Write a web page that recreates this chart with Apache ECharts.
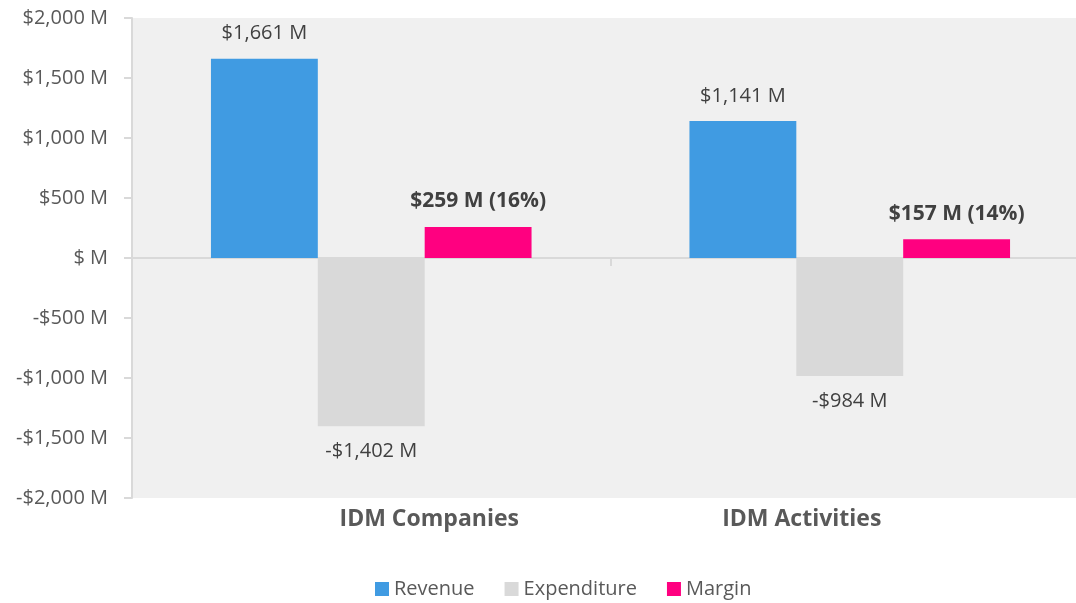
<!DOCTYPE html>
<html>
<head>
<meta charset="utf-8">
<script src="https://cdn.jsdelivr.net/npm/echarts@6/dist/echarts.min.js"></script>
<style>
  html, body { margin: 0; padding: 0; background: #fff; }
  #chart { width: 1076px; height: 603px; }
</style>
</head>
<body>
<div id="chart"></div>
<script>
const categories = ['IDM Companies', 'IDM Activities']
const revenue = [1661, 1141]
const expenditure = [-1402, -984]
const margin = [259, 157]
const marginPct = [16, 14]

const font = 'Open Sans'
const textColor = '#595959'
const labelColor = '#404040'

function money(v) {
  const abs = Math.abs(v)
  const s = abs === 0 ? '' : abs.toLocaleString('en-US')
  return (v < 0 ? '-' : '') + '$' + s + ' M'
}

const chart = echarts.init(document.getElementById('chart'))
const option = {
  animation: false,
  textStyle: { fontFamily: font },
  grid: {
    left: 132, width: 957, top: 18, bottom: 105,
    outerBoundsMode: 'none',
    show: true, backgroundColor: '#f0f0f0', borderWidth: 0
  },
  legend: {
    bottom: -1,
    left: 370,
    icon: 'rect',
    itemWidth: 14,
    itemHeight: 14,
    itemGap: 30,
    textStyle: { fontSize: 20, color: textColor, fontFamily: font },
    data: ['Revenue', 'Expenditure', 'Margin']
  },
  xAxis: [{
    type: 'category',
    data: categories,
    position: 'bottom',
    axisLine: { show: false, onZero: false },
    axisTick: { show: false },
    axisLabel: {
      margin: 10,
      formatter: (v, i) => i === 0 ? '{a|' + v + '}' : '{b|' + v + '}',
      rich: {
        a: { fontSize: 23, fontWeight: 'bold', color: textColor, fontFamily: font, padding: [0, 0, 0, 116] },
        b: { fontSize: 23, fontWeight: 'bold', color: textColor, fontFamily: font, padding: [0, 96, 0, 0] }
      }
    }
  }, {
    type: 'category',
    data: categories,
    position: 'bottom',
    axisLine: { show: true, onZero: true, lineStyle: { color: '#d9d9d9', width: 2 } },
    axisTick: { show: true, length: 8, lineStyle: { color: '#d9d9d9', width: 2 } },
    axisLabel: { show: false }
  }],
  yAxis: {
    type: 'value',
    min: -2000,
    max: 2000,
    interval: 500,
    axisLine: { show: true, lineStyle: { color: '#d9d9d9', width: 2 } },
    axisTick: { show: true, length: 8, lineStyle: { color: '#d9d9d9', width: 2 } },
    splitLine: { show: false },
    axisLabel: {
      margin: 24,
      fontSize: 20,
      color: textColor,
      formatter: v => money(v)
    }
  },
  series: [{
    name: 'Revenue',
    type: 'bar',
    data: revenue,
    barGap: '0%',
    barCategoryGap: '33%',
    itemStyle: { color: '#409be2' },
    label: {
      show: true, position: 'outside', distance: 15,
      fontSize: 20, color: labelColor, formatter: p => money(p.value)
    }
  }, {
    name: 'Expenditure',
    type: 'bar',
    data: expenditure,
    itemStyle: { color: '#d9d9d9' },
    label: {
      show: true, position: 'outside', distance: 15,
      fontSize: 20, color: labelColor, formatter: p => money(p.value)
    }
  }, {
    name: 'Margin',
    type: 'bar',
    data: margin,
    itemStyle: { color: '#ff0080' },
    label: {
      show: true, position: 'outside', distance: 15,
      fontSize: 21, fontWeight: 'bold', color: labelColor,
      formatter: p => money(p.value) + ' (' + marginPct[p.dataIndex] + '%)'
    }
  }]
}
chart.setOption(option)
</script>
</body>
</html>
